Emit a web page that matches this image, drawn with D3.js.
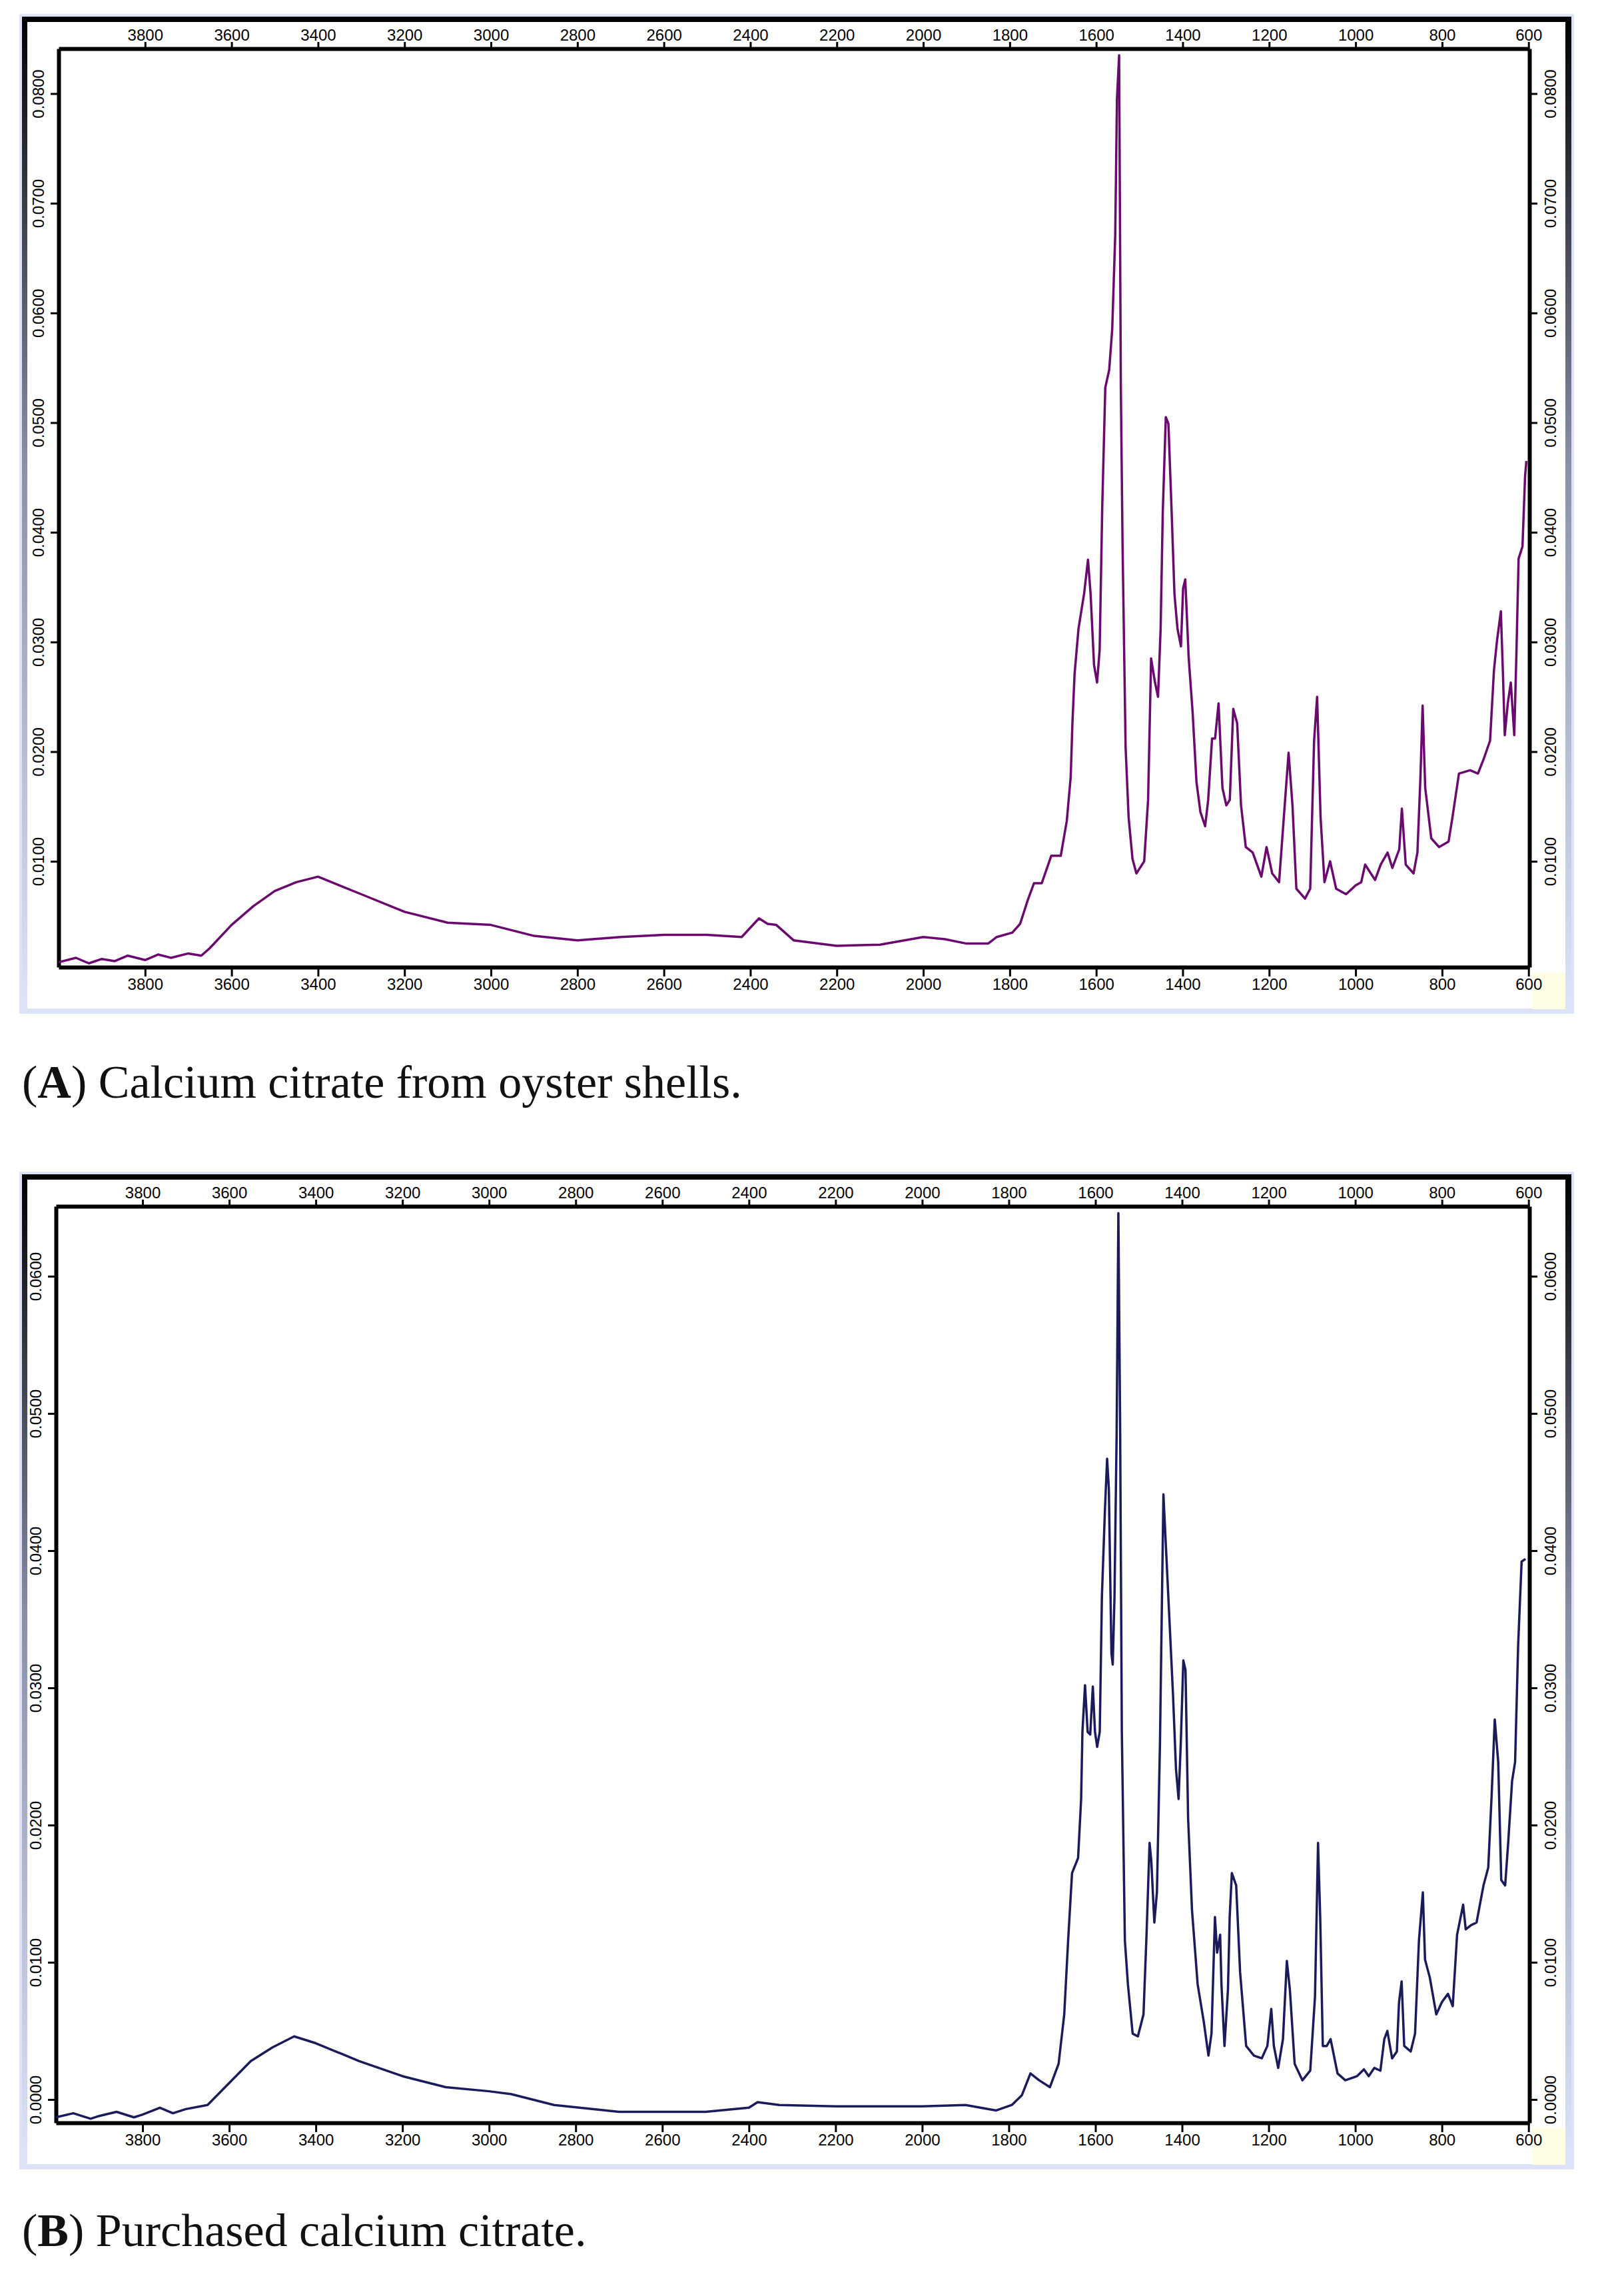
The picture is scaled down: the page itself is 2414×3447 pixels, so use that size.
<!DOCTYPE html>
<html>
<head>
<meta charset="UTF-8" />
<title>FTIR calcium citrate</title>
<script src="https://d3js.org/d3.v7.min.js"></script>
<style>
 body { margin:0; background:#fff; }
 svg text { font-family: "Liberation Sans", Arial, sans-serif; }
</style>
</head>
<body>
<svg id="chart" width="2414" height="3447"></svg>
<script>
// wavenumber / absorbance pairs
var wnA = [4000,3960,3930,3900,3870,3840,3800,3770,3740,3700,3670,3650,3600,3550,3500,3450,3400,3350,3300,3200,3100,3000,2900,2800,2700,2600,2500,2420,2380,2360,2340,2300,2200,2100,2000,1950,1900,1850,
 1830,1794,1776,1758,1744,1726,1704,1682,1668,1659,1655,1650,1641,1628,1619,1613,1605,1598,1592,1586,1579,1570,1563,1556,1552,1547,1543,1539,1532,1525,1516,1507,1489,1480,1473,1464,1457,1451,1446,1439,1433,1426,1419,1412,1404,1399,1394,1386,1377,1368,1359,1348,1341,1332,1325,1317,1308,1299,1291,1283,1274,1265,1254,1238,1218,1206,1193,1177,1164,1155,1146,1137,1117,1105,1096,1089,1081,1072,1059,1045,1022,1000,987,978,955,942,926,915,899,893,884,866,857,850,845,839,825,807,785,776,761,735,717,704,689,680,673,664,659,655,648,641,633,628,623,614,608,605]
var absA = [0.0008,0.0012,0.0007,0.0011,0.0009,0.0014,0.0010,0.0015,0.0012,0.0016,0.0014,0.0021,0.0042,0.0059,0.0073,0.0081,0.0086,0.0078,0.0070,0.0054,0.0044,0.0042,0.0032,0.0028,0.0031,0.0033,0.0033,0.0031,0.0048,0.0043,0.0042,0.0028,0.0023,0.0024,0.0031,0.0029,0.0025,0.0025,
 0.0031,0.0035,0.0043,0.0065,0.0080,0.0080,0.0105,0.0105,0.0137,0.0177,0.0226,0.0271,0.0312,0.0344,0.0375,0.0344,0.0279,0.0263,0.0293,0.0424,0.0532,0.0548,0.0585,0.0671,0.0795,0.0835,0.0532,0.0387,0.0204,0.0140,0.0102,0.0089,0.0100,0.0156,0.0285,0.0263,0.0250,0.0312,0.0419,0.0505,0.0499,0.0424,0.0344,0.0312,0.0296,0.0349,0.0357,0.0285,0.0236,0.0172,0.0145,0.0132,0.0156,0.0212,0.0212,0.0244,0.0167,0.0151,0.0156,0.0239,0.0226,0.0151,0.0113,0.0108,0.0086,0.0113,0.0089,0.0081,0.0151,0.0199,0.0151,0.0075,0.0066,0.0075,0.0210,0.0250,0.0140,0.0081,0.0100,0.0075,0.0070,0.0078,0.0081,0.0097,0.0083,0.0097,0.0108,0.0094,0.0111,0.0148,0.0097,0.0089,0.0108,0.0177,0.0242,0.0167,0.0121,0.0113,0.0118,0.0140,0.0180,0.0183,0.0180,0.0193,0.0210,0.0274,0.0301,0.0328,0.0269,0.0215,0.0244,0.0263,0.0215,0.0290,0.0376,0.0387,0.0451,0.0465]

var wnB = [4000,3960,3920,3900,3860,3820,3800,3760,3730,3700,3650,3600,3550,3500,3450,3400,3300,3200,3100,3000,2950,2850,2700,2500,2400,2380,2330,2200,2000,1900,
 1829,1793,1770,1750,1730,1705,1685,1672,1663,1654,1640,1633,1630,1624,1618,1612,1606,1601,1596,1590,1585,1578,1573,1569,1563,1560,1556,1551,1547,1543,1539,1532,1525,1514,1502,1489,1482,1475,1471,1464,1458,1451,1443,1438,1429,1421,1414,1408,1403,1397,1392,1386,1377,1364,1350,1339,1332,1324,1319,1312,1309,1302,1294,1290,1285,1275,1266,1252,1234,1216,1203,1194,1188,1178,1167,1158,1151,1140,1122,1104,1093,1086,1081,1075,1066,1057,1041,1023,996,980,969,956,942,933,926,915,904,899,893,887,872,862,853,844,839,828,813,800,786,775,765,751,745,733,720,704,693,685,678,670,663,654,647,638,631,624,616,607]
var absB = [-0.0013,-0.0010,-0.0014,-0.0012,-0.0009,-0.0013,-0.0011,-0.0006,-0.0010,-0.0007,-0.0004,0.0012,0.0028,0.0038,0.0046,0.0041,0.0028,0.0017,0.0009,0.0006,0.0004,-0.0004,-0.0009,-0.0009,-0.0006,-0.0002,-0.0004,-0.0005,-0.0005,-0.0004,
 -0.0008,-0.0004,0.0003,0.0019,0.0014,0.0009,0.0026,0.0062,0.0116,0.0165,0.0176,0.0219,0.0268,0.0302,0.0268,0.0266,0.0301,0.0268,0.0257,0.0268,0.0367,0.0430,0.0467,0.0445,0.0325,0.0317,0.0366,0.0486,0.0646,0.0493,0.0268,0.0116,0.0084,0.0048,0.0046,0.0062,0.0120,0.0187,0.0174,0.0129,0.0151,0.0259,0.0441,0.0408,0.0349,0.0296,0.0241,0.0219,0.0259,0.0320,0.0313,0.0205,0.0138,0.0084,0.0057,0.0032,0.0048,0.0133,0.0107,0.0120,0.0084,0.0039,0.0080,0.0133,0.0165,0.0156,0.0093,0.0039,0.0032,0.0030,0.0039,0.0066,0.0039,0.0023,0.0044,0.0101,0.0080,0.0026,0.0014,0.0021,0.0075,0.0187,0.0133,0.0039,0.0039,0.0044,0.0019,0.0014,0.0017,0.0022,0.0017,0.0023,0.0021,0.0044,0.0050,0.0030,0.0035,0.0071,0.0086,0.0039,0.0035,0.0048,0.0116,0.0151,0.0102,0.0089,0.0062,0.0071,0.0077,0.0068,0.0120,0.0142,0.0124,0.0127,0.0129,0.0156,0.0169,0.0223,0.0277,0.0246,0.0160,0.0156,0.0187,0.0232,0.0246,0.0331,0.0392,0.0394]

var xTicks = [3800,3600,3400,3200,3000,2800,2600,2400,2200,2000,1800,1600,1400,1200,1000,800,600]
var yTicksA = [0.01,0.02,0.03,0.04,0.05,0.06,0.07,0.08]
var yTicksB = [0.00,0.01,0.02,0.03,0.04,0.05,0.06]
var captionA = "Calcium citrate from oyster shells."
var captionB = "Purchased calcium citrate."

var svg = d3.select("#chart")
var defs = svg.append("defs")
var grad = defs.append("linearGradient").attr("id", "barGrad").attr("x1", 0).attr("y1", 0).attr("x2", 0).attr("y2", 1)
grad.append("stop").attr("offset", "0%").attr("stop-color", "#000")
grad.append("stop").attr("offset", "45%").attr("stop-color", "#8a90a8")
grad.append("stop").attr("offset", "100%").attr("stop-color", "#dfe5f8")

function panel(p){
	var g = svg.append("g")
	// frame
	g.append("rect").attr("x", 33).attr("y", p.top - 48).attr("width", 2326).attr("height", p.bottom - p.top + 114)
		.attr("fill", "#fff").attr("stroke", "#dde3f6").attr("stroke-width", 8)
	g.append("rect").attr("x", 33).attr("y", p.top - 48).attr("width", 2326).attr("height", 8).attr("fill", "#000")
	g.append("rect").attr("x", 33).attr("y", p.top - 48).attr("width", 8).attr("height", p.bottom - p.top + 114).attr("fill", "url(#barGrad)")
	g.append("rect").attr("x", 2350).attr("y", p.top - 48).attr("width", 9).attr("height", p.bottom - p.top + 114).attr("fill", "url(#barGrad)")
	g.append("rect").attr("x", 2300).attr("y", p.bottom + 8).attr("width", 50).attr("height", 55).attr("fill", "#fffde3")

	var x = d3.scaleLinear().domain([4000, 598]).range([p.left, 2296])
	var y = d3.scaleLinear().domain(p.ydom).range([p.bottom, p.top])
	var fmt = d3.format(".4f")

	var top = g.append("g").attr("transform", `translate(0,${p.top})`)
		.call(d3.axisTop(x).tickValues(xTicks).tickSize(10).tickSizeOuter(0).tickFormat(d3.format("d")))
	var bot = g.append("g").attr("transform", `translate(0,${p.bottom})`)
		.call(d3.axisBottom(x).tickValues(xTicks).tickSize(14).tickSizeOuter(0).tickFormat(d3.format("d")))
	var lft = g.append("g").attr("transform", `translate(${p.left},0)`)
		.call(d3.axisLeft(y).tickValues(p.yticks).tickSize(12).tickSizeOuter(0).tickFormat(fmt))
	var rgt = g.append("g").attr("transform", `translate(2296,0)`)
		.call(d3.axisRight(y).tickValues(p.yticks).tickSize(12).tickSizeOuter(0).tickFormat(fmt))
	;[top, bot, lft, rgt].forEach(a => {
		a.selectAll(".domain").attr("stroke", "#000").attr("stroke-width", 6)
		a.selectAll(".tick line").attr("stroke", "#000").attr("stroke-width", 3)
		a.selectAll("text").attr("font-size", 24).attr("fill", "#000")
	})
	top.selectAll("text").attr("y", -12).attr("dy", "0em")
	lft.selectAll("text").attr("text-anchor", "middle").attr("transform", "translate(-22,0) rotate(-90)")
		.attr("x", 0).attr("y", 0).attr("dy", "0em")
	rgt.selectAll("text").attr("text-anchor", "middle").attr("transform", "translate(22,0) rotate(-90)")
		.attr("x", 0).attr("y", 0).attr("dy", "0.75em")

	var line = d3.line().x(d => x(d[0])).y(d => y(d[1]))
	g.append("path").datum(d3.zip(p.wn, p.abs)).attr("d", line)
		.attr("fill", "none").attr("stroke", p.color).attr("stroke-width", 3.5).attr("stroke-linejoin", "round")

	var t = svg.append("text").attr("x", 33).attr("y", p.capY)
		.style("font-family", "'Liberation Serif','DejaVu Serif',serif").attr("font-size", 70).attr("fill", "#111")
	t.append("tspan").text("(")
	t.append("tspan").attr("font-weight", "bold").text(p.letter)
	t.append("tspan").text(") " + p.caption)
}

panel({top: 73, bottom: 1452, left: 88, ydom: [0.00035, 0.0841], yticks: yTicksA, wn: wnA, abs: absA, color: "#6b0a6e", capY: 1648, letter: "A", caption: captionA})
panel({top: 1811, bottom: 3187, left: 84, ydom: [-0.0017, 0.0651], yticks: yTicksB, wn: wnB, abs: absB, color: "#1b1b5c", capY: 3372, letter: "B", caption: captionB})
</script>
</body>
</html>
